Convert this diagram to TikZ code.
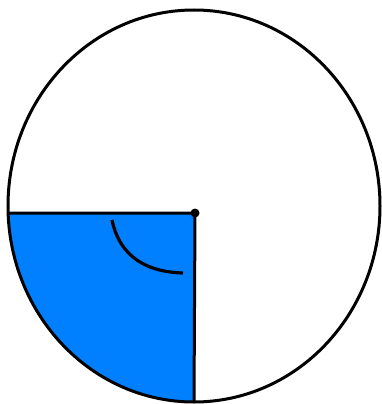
\documentclass[tikz,border=0pt]{standalone}
\definecolor{sectorblue}{RGB}{0,128,255}
\tikzset{outline/.style={line width=3pt, draw=black}}
\begin{document}
\begin{tikzpicture}[x=1pt,y=-1pt]
\useasboundingbox (0,0) rectangle (381,404);
\coordinate (C) at (195,213);
\coordinate (L) at (8.1,213);
\coordinate (B) at (194,402);
% sector fill
\fill[sectorblue] (C) -- (L) arc[start angle=182.05, end angle=270, x radius=186, y radius=-196] -- cycle;
% outer ellipse
\draw[outline] (194,206) ellipse[x radius=186, y radius=196];
% radii
\draw[outline] (L) -- (C) -- (B);
\fill (C) circle[radius=4.5];
% angle mark
\coordinate (A1) at (112,220);
\coordinate (A2) at (183,273);
\draw[line width=3.2pt] (A1) .. controls (120,258) and (148,272) .. (A2);
\end{tikzpicture}
\end{document}
